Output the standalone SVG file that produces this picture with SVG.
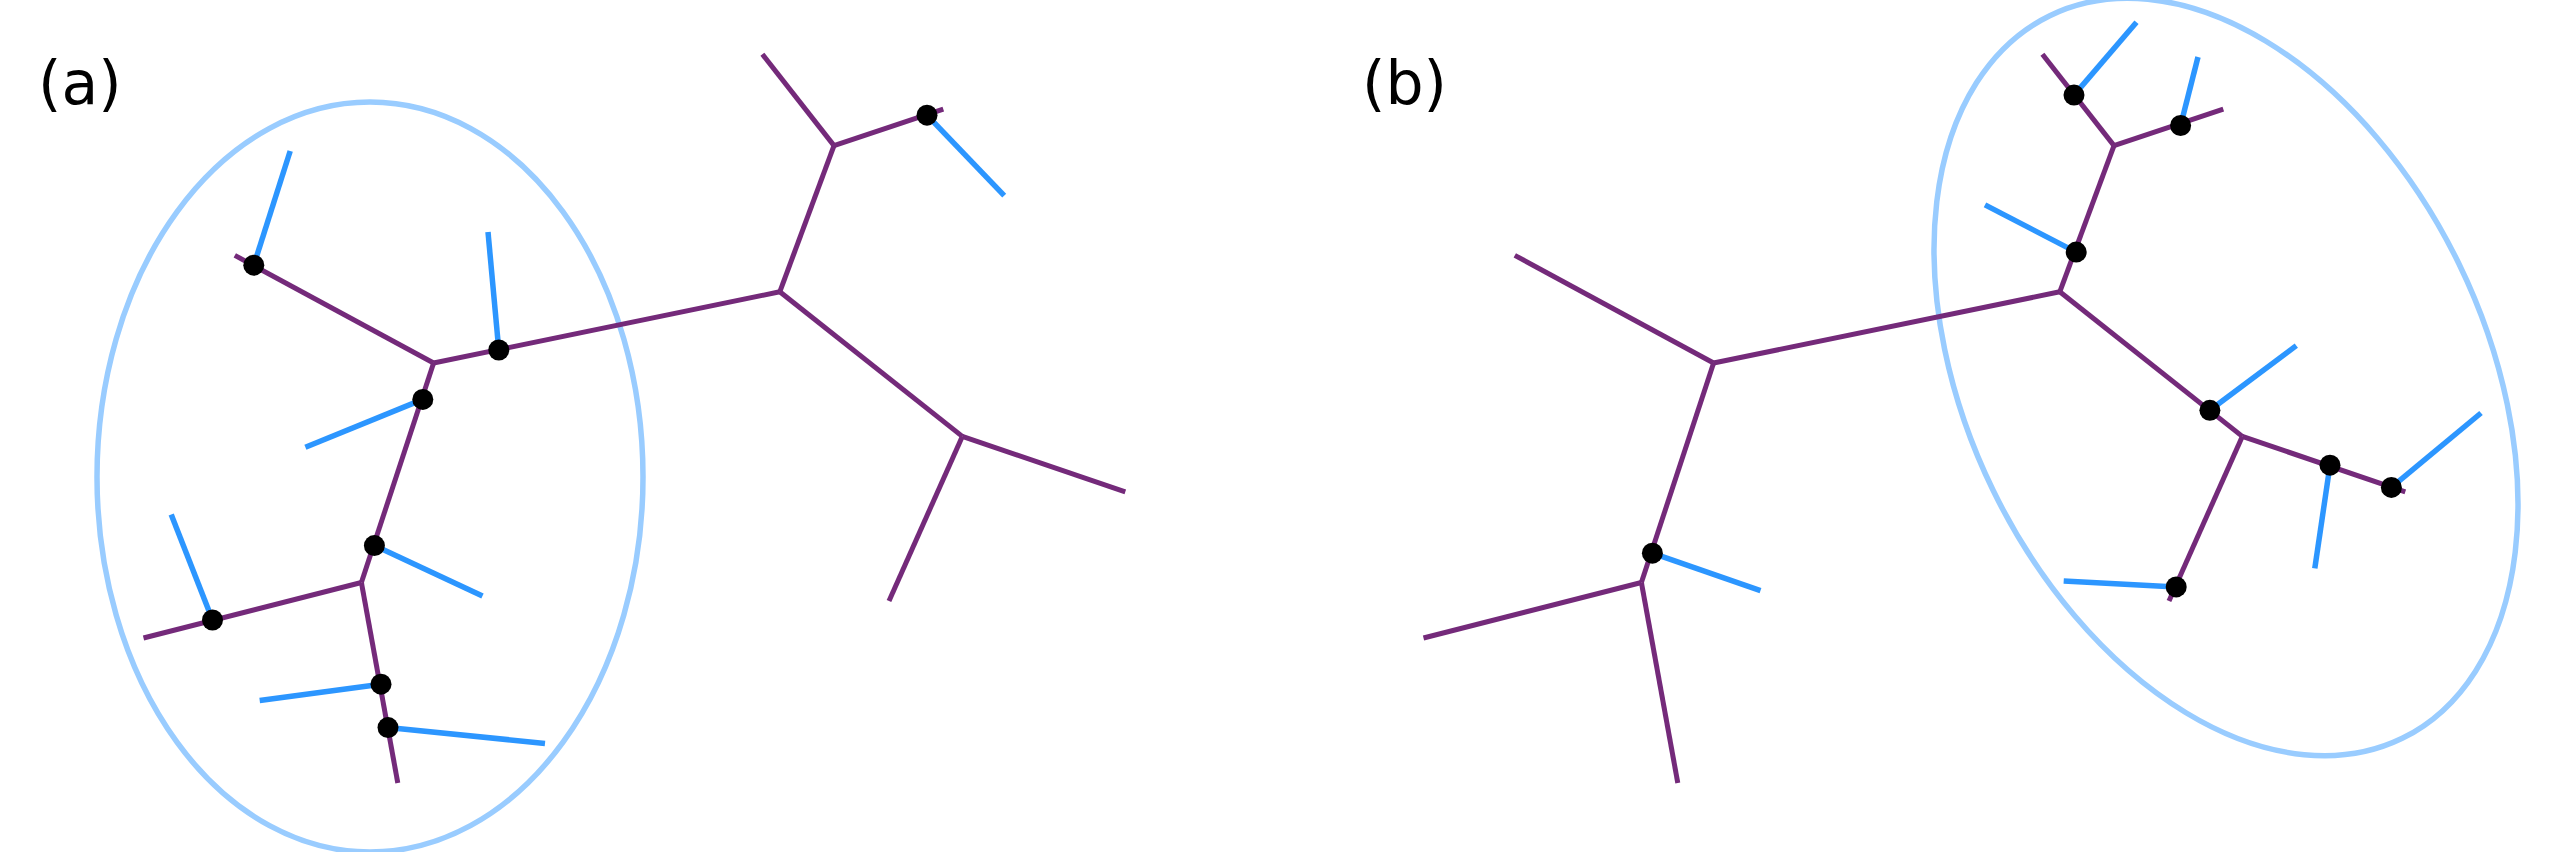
<svg xmlns="http://www.w3.org/2000/svg" xmlns:xlink="http://www.w3.org/1999/xlink" width="2556" height="852" viewBox="0 0 2556 852">
<style>
.bg{fill:#ffffff}
.ell{fill:none;stroke:#99CCFF;stroke-width:5.5}
.tree{fill:none;stroke:#742A7A;stroke-width:5;stroke-linecap:butt;stroke-linejoin:round}
.br{fill:none;stroke:#2C96FF;stroke-width:5.5;stroke-linecap:butt}
.dot{fill:#000000}
.lbl{font-family:"DejaVu Sans","Liberation Sans",sans-serif;font-size:60px;fill:#000000}
</style>
<defs>
<g id="skeleton">
<path d="M433.6,363 L234.8,255.4"/>
<path d="M433.6,363 L779.8,291.8"/>
<path d="M779.8,291.8 L834,145.6"/>
<path d="M834,145.6 L762.4,54.3"/>
<path d="M834,145.6 L943.3,109.2"/>
<path d="M779.8,291.8 L962.3,436.4"/>
<path d="M962.3,436.4 L1125.3,491.8"/>
<path d="M962.3,436.4 L889,601"/>
<path d="M433.6,363 L361.4,582.5"/>
<path d="M361.4,582.5 L143.5,638"/>
<path d="M361.4,582.5 L397.8,783"/>
</g>
</defs>
<rect class="bg" x="0" y="0" width="2556" height="852"/>

<g id="panel-a">
<text class="lbl" x="38" y="103.5">(a)</text>
<ellipse id="region-a" class="ell" cx="370" cy="477" rx="273" ry="375"/>
<g id="connectors-a">
<use xlink:href="#skeleton" class="tree"/>
<path class="br" d="M253.8,265.2 L290.2,151"/>
<path class="br" d="M498.8,350 L488,232"/>
<path class="br" d="M422.8,399.4 L305.4,447.2"/>
<path class="br" d="M374.4,545.6 L482.5,596"/>
<path class="br" d="M212.5,620 L171.2,514.6"/>
<path class="br" d="M381,684.2 L259.7,700.5"/>
<path class="br" d="M388,727.6 L545,743.4"/>
<path class="br" d="M927,115.2 L1004.2,195.6"/>
</g>
<g id="node-a1"><circle class="dot" cx="253.8" cy="265.2" r="10.5"/></g>
<g id="node-a2"><circle class="dot" cx="498.8" cy="350" r="10.5"/></g>
<g id="node-a3"><circle class="dot" cx="422.8" cy="399.4" r="10.5"/></g>
<g id="node-a4"><circle class="dot" cx="374.4" cy="545.6" r="10.5"/></g>
<g id="node-a5"><circle class="dot" cx="212.5" cy="620" r="10.5"/></g>
<g id="node-a6"><circle class="dot" cx="381" cy="684.2" r="10.5"/></g>
<g id="node-a7"><circle class="dot" cx="388" cy="727.6" r="10.5"/></g>
<g id="node-a8"><circle class="dot" cx="927" cy="115.2" r="10.5"/></g>
</g>

<g id="panel-b">
<text class="lbl" x="1362" y="103.5">(b)</text>
<ellipse id="region-b" class="ell" cx="2226" cy="377" rx="402" ry="259" transform="rotate(64 2226 377)"/>
<g id="connectors-b">
<use xlink:href="#skeleton" class="tree" transform="translate(1280 0)"/>
<path class="br" d="M1652.4,553.2 L1760.5,590.7"/>
<path class="br" d="M2074,95.1 L2136.5,22.3"/>
<path class="br" d="M2180.6,125.5 L2198,57"/>
<path class="br" d="M2076.2,252.1 L1985,204.9"/>
<path class="br" d="M2209.9,410.3 L2296.3,345.6"/>
<path class="br" d="M2330,465.2 L2314.8,568.4"/>
<path class="br" d="M2391.4,487.4 L2481,413"/>
<path class="br" d="M2176.2,586.9 L2063.7,580.9"/>
</g>
<g id="node-b1"><circle class="dot" cx="1652.4" cy="553.2" r="10.5"/></g>
<g id="node-b2"><circle class="dot" cx="2074" cy="95.1" r="10.5"/></g>
<g id="node-b3"><circle class="dot" cx="2180.6" cy="125.5" r="10.5"/></g>
<g id="node-b4"><circle class="dot" cx="2076.2" cy="252.1" r="10.5"/></g>
<g id="node-b5"><circle class="dot" cx="2209.9" cy="410.3" r="10.5"/></g>
<g id="node-b6"><circle class="dot" cx="2330" cy="465.2" r="10.5"/></g>
<g id="node-b7"><circle class="dot" cx="2391.4" cy="487.4" r="10.5"/></g>
<g id="node-b8"><circle class="dot" cx="2176.2" cy="586.9" r="10.5"/></g>
</g>
</svg>
